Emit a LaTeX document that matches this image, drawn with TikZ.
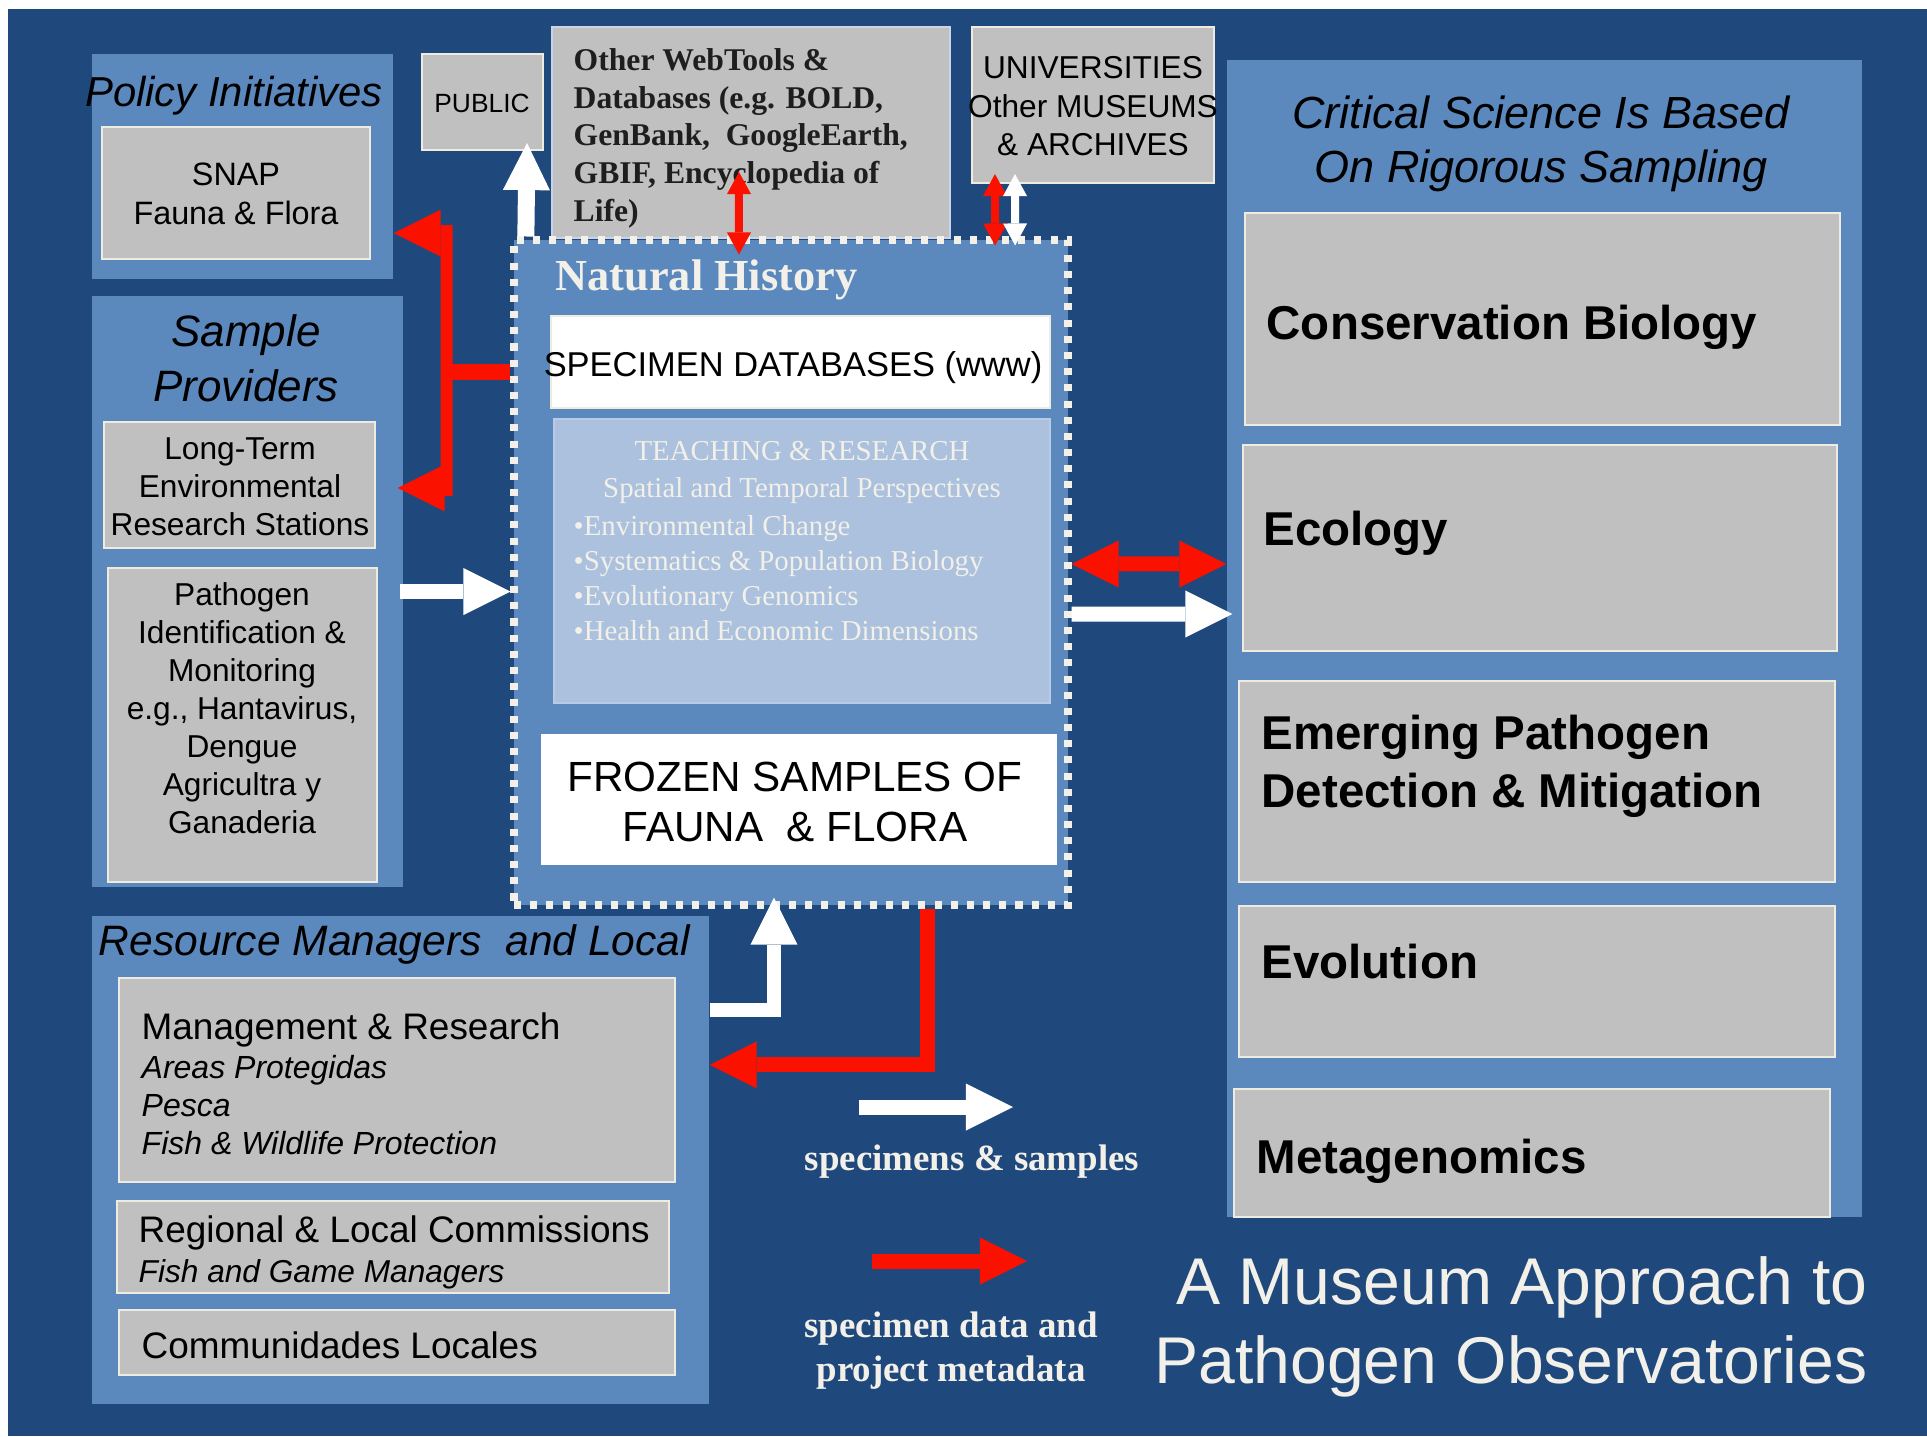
\documentclass[tikz,border=0pt]{standalone}
\usepackage{fontspec}
\setmainfont{Liberation Serif}
\setsansfont{Liberation Sans}
\usetikzlibrary{arrows.meta,fit}

\begin{document}
\begin{tikzpicture}[x=0.01cm, y=-0.01cm,
    panel/.style={fill=panelblue, inner sep=0pt},
    graybox/.style={fill=boxgray, draw=boxline, line width=0.6pt, inner sep=0pt},
    whitebox/.style={fill=white, draw=boxline, line width=0.6pt, inner sep=0pt},
    txt/.style={inner sep=0pt, text depth=0pt},
    sanstext/.style n args={3}{txt, font=\sffamily#1\fontsize{#2}{#3}\selectfont},
    seriftext/.style n args={3}{txt, font=\rmfamily#1\fontsize{#2}{#3}\selectfont},
    fatwhite/.style={draw=white, line width=0.15cm, -{Triangle[length=0.47cm, width=0.47cm, line width=0pt]}},
    fatred/.style={draw=arrowred, line width=0.15cm, -{Triangle[length=0.47cm, width=0.47cm, line width=0pt]}},
    bothred/.style={draw=arrowred, line width=0.15cm, {Triangle[length=0.47cm, width=0.47cm, line width=0pt]}-{Triangle[length=0.47cm, width=0.47cm, line width=0pt]}},
    thinred/.style={draw=arrowred, line width=0.08cm, {Triangle[length=0.22cm, width=0.24cm, line width=0pt]}-{Triangle[length=0.22cm, width=0.24cm, line width=0pt]}},
    thinwhite/.style={draw=white, line width=0.08cm, {Triangle[length=0.22cm, width=0.24cm, line width=0pt]}-{Triangle[length=0.22cm, width=0.24cm, line width=0pt]}},
    redbar/.style={draw=arrowred, line width=0.12cm}]
    % Define colors
    \definecolor{bgblue}{RGB}{31,73,125}
    \definecolor{panelblue}{RGB}{91,137,190}
    \definecolor{boxgray}{RGB}{192,192,192}
    \definecolor{boxline}{RGB}{238,236,225}
    \definecolor{teachblue}{RGB}{171,193,221}
    \definecolor{cream}{RGB}{242,240,232}
    \definecolor{textdark}{RGB}{30,30,30}
    \definecolor{arrowred}{RGB}{250,17,0}

    \fill[white] (0,0) rectangle (1927,1436);
    \useasboundingbox (0,0) rectangle (1927,1436);
    \fill[bgblue] (8,9) rectangle (1927,1436);

    % panels
    \node[panel, fit={(92,54) (393,279)}] (pol) {};
    \node[panel, fit={(92,296) (403,887)}] (sp) {};
    \node[panel, fit={(92,916) (709,1404)}] (rm) {};
    \node[panel, fit={(1227,60) (1862,1217)}] (crit) {};

    % top boxes
    \node[graybox, fit={(422,54) (543,150)}] (pub) {};
    \node[graybox, draw={rgb,255:red,200;green,212;blue,232}, fit={(552,27) (950,238)}] (web) {};
    \node[graybox, fit={(972,27) (1214,183)}] (univ) {};

    % museum
    \node[panel, draw=cream, line width=2pt, dash pattern=on 2pt off 2.6pt,
          fit={(514,240) (1068,905)}] (nh) {};
    \node[whitebox, fit={(551,316) (1050,408)}] (spec) {};
    \node[panel, fill=teachblue, draw={rgb,255:red,185;green,203;blue,228}, line width=0.5pt,
          fit={(554,419) (1050,703)}] (teach) {};
    \node[panel, fill=white, fit={(541,734) (1057,865)}] (frozen) {};

    % left boxes
    \node[graybox, fit={(102,127) (370,259)}] (snap) {};
    \node[graybox, fit={(104,422) (375,548)}] (lt) {};
    \node[graybox, fit={(108,568) (377,882)}] (path) {};
    \node[graybox, fit={(119,978) (675,1182)}] (mgmt) {};
    \node[graybox, fit={(117,1201) (669,1293)}] (reg) {};
    \node[graybox, fit={(119,1310) (675,1375)}] (com) {};

    % right boxes
    \node[graybox, fit={(1245,213) (1840,425)}] (cb) {};
    \node[graybox, fit={(1243,445) (1837,651)}] (eco) {};
    \node[graybox, fit={(1239,681) (1835,882)}] (em) {};
    \node[graybox, fit={(1239,906) (1835,1057)}] (evo) {};
    \node[graybox, fit={(1234,1089) (1830,1217)}] (meta) {};

    % texts
    \node[sanstext={\itshape}{11.9}{14}] (poltitle) at (234,91) {Policy Initiatives};
    \node[sanstext={}{9.2}{11.2}, align=center] (snaptext) at (236,194) {SNAP\\Fauna \& Flora};
    \node[sanstext={}{7.5}{9}] (pubtext) at (482,103) {PUBLIC};
    \node[seriftext={\bfseries}{9}{10.8}, align=left, anchor=west, text=textdark] (webtext) at (573,135)
        {Other WebTools \&\\Databases (e.g. BOLD,\\GenBank,~ GoogleEarth,\\GBIF, Encyclopedia of\\Life)};
    \node[sanstext={}{9}{11}, align=center] (univtext) at (1093,106) {UNIVERSITIES\\Other MUSEUMS\\\& ARCHIVES};
    \node[sanstext={\itshape}{12.5}{15.4}, align=center] (sptitle) at (246,358) {Sample\\Providers};
    \node[sanstext={}{9}{10.8}, align=center] (lttext) at (240,487) {Long-Term\\Environmental\\Research Stations};
    \node[sanstext={}{9}{10.8}, align=center] (pathtext) at (242,708)
        {Pathogen\\Identification \&\\Monitoring\\e.g., Hantavirus,\\Dengue\\Agricultra y\\Ganaderia};
    \node[seriftext={\bfseries}{12.6}{15}, anchor=west, text=cream] (nhtitle) at (555,275) {Natural History};
    \node[sanstext={}{9.8}{12}] (spectext) at (793,364) {SPECIMEN DATABASES (www)};
    \node[seriftext={}{8.2}{10.5}, align=center, text=cream] (teachhead) at (802,469)
        {TEACHING \& RESEARCH\\Spatial and Temporal Perspectives};
    \node[seriftext={}{8.2}{9.9}, align=left, anchor=west, text=cream] (teachlist) at (573,578)
        {•Environmental Change\\•Systematics \& Population Biology\\•Evolutionary Genomics\\•Health and Economic Dimensions};
    \node[sanstext={}{12}{14.3}, align=center] (frozentext) at (795,802) {FROZEN SAMPLES OF\\FAUNA~ \& FLORA};
    \node[sanstext={\itshape}{12.8}{15.4}, align=center] (crittitle) at (1541,139) {Critical Science Is Based\\On Rigorous Sampling};
    \node[sanstext={\bfseries}{13.5}{16.4}, anchor=west] (cbtext) at (1266,322) {Conservation Biology};
    \node[sanstext={\bfseries}{13.5}{16.4}, anchor=west] (ecotext) at (1263,528) {Ecology};
    \node[sanstext={\bfseries}{13.5}{16.4}, anchor=west, align=left] (emtext) at (1261,761) {Emerging Pathogen\\Detection \& Mitigation};
    \node[sanstext={\bfseries}{13.5}{16.4}, anchor=west] (evotext) at (1261,961) {Evolution};
    \node[sanstext={\bfseries}{13.5}{16.4}, anchor=west] (metatext) at (1256,1156) {Metagenomics};
    \node[sanstext={\itshape}{12.1}{14.5}, anchor=west] (rmtitle) at (98,940) {Resource Managers~ and Local};
    \node[sanstext={}{10.5}{12.6}, anchor=west] (mgmthead) at (141,1026) {Management \& Research};
    \node[sanstext={\itshape}{9.1}{10.8}, anchor=west, align=left] (mgmtlist) at (141,1105)
        {Areas Protegidas\\Pesca\\Fish \& Wildlife Protection};
    \node[sanstext={}{10.5}{12.6}, anchor=west] (reghead) at (138,1229) {Regional \& Local Commissions};
    \node[sanstext={\itshape}{9}{10.8}, anchor=west] (regsub) at (138,1271) {Fish and Game Managers};
    \node[sanstext={}{10.5}{12.6}, anchor=west] (comtext) at (141,1345) {Communidades Locales};
    \node[seriftext={\bfseries}{10.5}{12.5}, text=cream] (keywtext) at (972,1158) {specimens \& samples};
    \node[seriftext={\bfseries}{10.5}{12.5}, align=center, text=cream] (keyrtext) at (951,1347) {specimen data and\\project metadata};
    \node[sanstext={}{18.8}{22.5}, align=right, anchor=east, text=cream] (title) at (1868,1320)
        {A Museum Approach to\\Pathogen Observatories};

    % arrows
    \draw[fatwhite, line width=0.17cm] ([xshift=-2.65cm]nh.north) -- ([xshift=-0.17cm,yshift=0.08cm]pub.south east);
    \draw[thinred] ([xshift=-0.52cm,yshift=-0.18cm]nh.north) -- ([xshift=-0.12cm,yshift=0.67cm]web.south);
    \draw[thinred] ([xshift=2.04cm,yshift=-0.09cm]nh.north) -- ([xshift=-0.98cm,yshift=0.1cm]univ.south);
    \draw[thinwhite] ([xshift=2.24cm,yshift=-0.09cm]nh.north) -- ([xshift=-0.78cm,yshift=0.1cm]univ.south);

    \draw[redbar, line width=0.16cm] ([yshift=2cm]nh.west) -- ([xshift=-0.68cm,yshift=2cm]nh.west);
    \draw[redbar] ([xshift=0.53cm,yshift=-0.585cm]pol.east) -- ([xshift=0.43cm,yshift=0.955cm]sp.east);
    \draw[fatred, line width=0.12cm] ([xshift=0.5cm,yshift=-0.665cm]pol.east) -- ([yshift=-0.665cm]pol.east);
    \draw[fatred, line width=0.12cm] ([xshift=0.4cm,yshift=1.035cm]sp.east) -- ([xshift=-0.06cm,yshift=1.035cm]sp.east);

    \draw[fatwhite] ([xshift=-0.04cm]sp.east) -- (sp.east -| nh.west);
    \draw[bothred] ([yshift=0.085cm]nh.east) -- ([yshift=0.745cm]crit.west);
    \draw[fatwhite] ([yshift=-0.415cm]nh.east) -- ([xshift=0.06cm,yshift=0.245cm]crit.west);

    \draw[fatwhite, line width=0.14cm] ([yshift=1.5cm]rm.east) -| ([xshift=-0.17cm,yshift=0.11cm]nh.south);
    \draw[fatred, line width=0.15cm] ([xshift=1.36cm]nh.south) |- ([yshift=0.95cm]rm.east);

    % key
    \coordinate (keyws) at (859,1107);
    \coordinate (keywe) at (1013,1107);
    \coordinate (keyrs) at (872,1261);
    \coordinate (keyre) at (1027,1261);
    \draw[fatwhite] (keyws) -- (keywe);
    \draw[fatred] (keyrs) -- (keyre);
\end{tikzpicture}
\end{document}
